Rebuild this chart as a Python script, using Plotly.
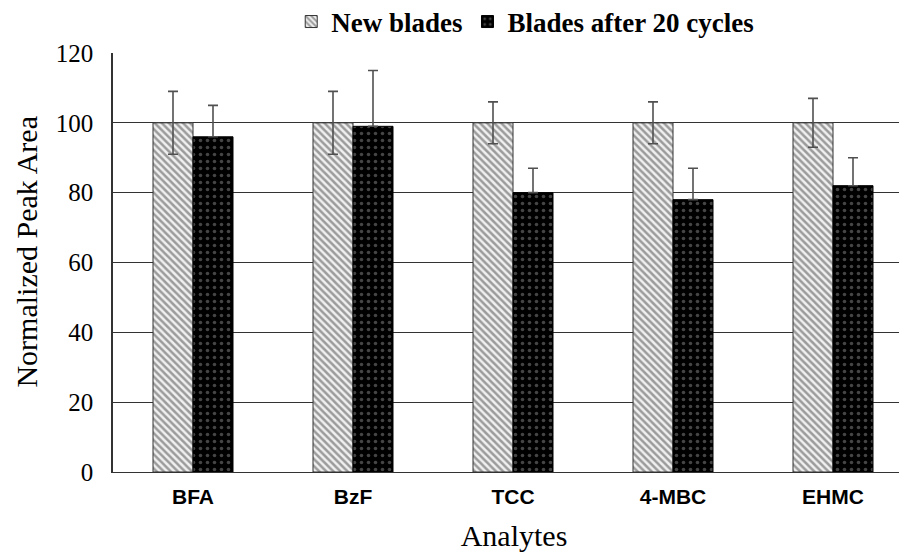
import plotly.graph_objects as go

categories = ["BFA", "BzF", "TCC", "4-MBC", "EHMC"]
new_blades = [100, 100, 100, 100, 100]
new_err = [9, 9, 6, 6, 7]
after_cycles = [96, 99, 80, 78, 82]
after_err = [9, 16, 7, 9, 8]
y_ticks = [0, 20, 40, 60, 80, 100, 120]

fig = go.Figure()
fig.add_trace(go.Bar(
    x=categories, y=new_blades, name="<b>New blades</b>",
    marker=dict(color="#f0f0f0",
                pattern=dict(shape="\\", fgcolor="#454545", bgcolor="#f0f0f0", size=5, solidity=0.5),
                line=dict(color="#333333", width=1)),
    error_y=dict(type="data", array=new_err, color="#505050", thickness=1.6, width=5),
))
fig.add_trace(go.Bar(
    x=categories, y=after_cycles, name="<b>Blades after 20 cycles</b>",
    marker=dict(color="#000000",
                pattern=dict(shape=".", fgcolor="#8a8a8a", bgcolor="#000000", size=7, solidity=0.2),
                line=dict(color="#000000", width=1)),
    error_y=dict(type="data", symmetric=False, array=after_err, arrayminus=[0]*5,
                 color="#505050", thickness=1.6, width=5),
))

# the page body adds an 8px offset, so margins compensate for it
fig.update_layout(
    width=907, height=552,
    margin=dict(l=105, r=0, t=45, b=88, autoexpand=False),
    paper_bgcolor="white", plot_bgcolor="white",
    barmode="group", bargap=0.5, bargroupgap=0,
    showlegend=True,
    legend=dict(orientation="h", x=0.514, xanchor="center", y=1.074, yanchor="middle",
                font=dict(family="Liberation Serif", size=27, color="black"),
                itemwidth=30, traceorder="normal"),
    font=dict(family="Liberation Serif", color="black"),
    annotations=[dict(
        text="Normalized Peak Area", textangle=-90, showarrow=False,
        xref="paper", yref="paper", x=-0.108, y=0.527, xanchor="center", yanchor="middle",
        font=dict(family="Liberation Serif", size=30, color="black"),
    )],
)
fig.update_xaxes(
    range=[-0.5, 4.5125], automargin=False,
    tickvals=categories, ticktext=["<b>%s</b>" % c for c in categories],
    showline=True, linecolor="#333333", linewidth=1,
    tickfont=dict(family="Liberation Sans Narrow, Liberation Sans", size=21, color="black"),
    title=dict(text="Analytes", font=dict(family="Liberation Serif", size=30, color="black"), standoff=17),
    ticks="outside", ticklen=6, tickcolor="rgba(0,0,0,0)", showgrid=False,
)
fig.update_yaxes(
    range=[0, 120], tickvals=y_ticks, automargin=False,
    showline=True, linecolor="#333333", linewidth=1.5,
    showgrid=True, gridcolor="#333333", gridwidth=1,
    tickfont=dict(family="Liberation Serif", size=25, color="black"),
    ticks="outside", ticklen=13, tickcolor="rgba(0,0,0,0)",
)

fig.write_html("out.html")
